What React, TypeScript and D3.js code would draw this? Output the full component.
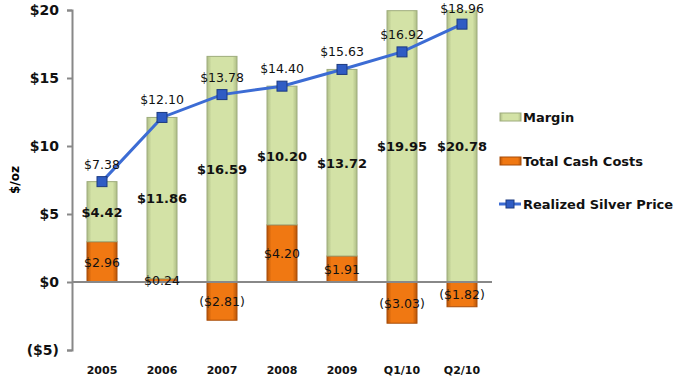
import React, { useRef, useEffect } from "react";
import * as d3 from "d3";

const categories = ["2005", "2006", "2007", "2008", "2009", "Q1/10", "Q2/10"];
const cashCosts = [2.96, 0.24, -2.81, 4.2, 1.91, -3.03, -1.82];
const margins = [4.42, 11.86, 16.59, 10.2, 13.72, 19.95, 20.78];
const silverPrice = [7.38, 12.1, 13.78, 14.4, 15.63, 16.92, 18.96];
const yTicks = [-5, 0, 5, 10, 15, 20];

const W = 677;
const H = 384;
const left = 72;
const right = 492;
const top = 10;
const bottom = 350;
const FONT = "'DejaVu Sans', Verdana, sans-serif";

const fmt = (v: number) => (v < 0 ? `($${Math.abs(v).toFixed(2)})` : `$${v.toFixed(2)}`);
const tickFmt = (v: number) => (v < 0 ? `($${Math.abs(v)})` : `$${v}`);

function App() {
  const svgRef = useRef<SVGSVGElement>(null);

  useEffect(() => {
    const svg = d3.select(svgRef.current);
    svg.selectAll("*").remove();

    const x = d3.scaleBand().domain(categories).range([left, right]).paddingInner(0.5).paddingOuter(0.25);
    const y = d3.scaleLinear().domain([-5, 20]).range([bottom, top]);

    const defs = svg.append("defs");
    const grad = (id: string, edge: string, mid: string) => {
      const g = defs.append("linearGradient").attr("id", id).attr("x1", 0).attr("x2", 1).attr("y1", 0).attr("y2", 0);
      g.append("stop").attr("offset", "0%").attr("stop-color", edge);
      g.append("stop").attr("offset", "15%").attr("stop-color", mid);
      g.append("stop").attr("offset", "85%").attr("stop-color", mid);
      g.append("stop").attr("offset", "100%").attr("stop-color", edge);
    };
    grad("gGreen", "#aebd86", "#d3e2a6");
    grad("gOrange", "#b85508", "#f07812");
    defs.append("clipPath").attr("id", "plotClip")
      .append("rect").attr("x", left).attr("y", y(20)).attr("width", right - left).attr("height", bottom - y(20));

    // y axis
    const yAxis = d3.axisLeft(y).tickValues(yTicks).tickFormat(d => tickFmt(+d)).tickSize(5).tickPadding(8);
    const ya = svg.append("g").attr("transform", `translate(${left},0)`).call(yAxis);
    ya.select(".domain").attr("stroke", "#888").attr("stroke-width", 2);
    ya.selectAll(".tick line").attr("stroke", "#888").attr("stroke-width", 2);
    ya.selectAll(".tick text").attr("font-family", FONT).attr("font-size", 14).attr("font-weight", "bold").attr("fill", "#111");

    svg.append("text")
      .attr("transform", `translate(19,${(top + bottom) / 2}) rotate(-90)`)
      .attr("text-anchor", "middle")
      .attr("font-family", FONT).attr("font-size", 12).attr("font-weight", "bold")
      .text("$/oz");

    const plot = svg.append("g").attr("clip-path", "url(#plotClip)");
    const bw = x.bandwidth();

    // cash cost bars
    plot.selectAll(".cost").data(categories).join("rect")
      .attr("class", "cost")
      .attr("x", d => x(d)!)
      .attr("y", (d, i) => y(Math.max(0, cashCosts[i])))
      .attr("width", bw)
      .attr("height", (d, i) => Math.abs(y(0) - y(cashCosts[i])))
      .attr("fill", "url(#gOrange)")
      .attr("stroke", "#a84c08").attr("stroke-width", 1);

    const mBase = (i: number) => Math.max(0, cashCosts[i]);
    plot.selectAll(".margin").data(categories).join("rect")
      .attr("class", "margin")
      .attr("x", d => x(d)!)
      .attr("y", (d, i) => y(mBase(i) + margins[i]))
      .attr("width", bw)
      .attr("height", (d, i) => y(mBase(i)) - y(mBase(i) + margins[i]))
      .attr("fill", "url(#gGreen)")
      .attr("stroke", "#9eac7c").attr("stroke-width", 1);

    // x axis zero line
    svg.append("line").attr("x1", left).attr("x2", right).attr("y1", y(0)).attr("y2", y(0))
      .attr("stroke", "#888").attr("stroke-width", 2);

    // x labels
    svg.selectAll(".xl").data(categories).join("text")
      .attr("class", "xl")
      .attr("x", d => x(d)! + bw / 2).attr("y", 374)
      .attr("text-anchor", "middle")
      .attr("font-family", FONT).attr("font-size", 11).attr("font-weight", "bold").attr("fill", "#111")
      .text(d => d);

    // margin labels
    svg.selectAll(".ml").data(categories).join("text")
      .attr("class", "ml")
      .attr("x", d => x(d)! + bw / 2)
      .attr("y", (d, i) => y((mBase(i) + Math.min(20, mBase(i) + margins[i])) / 2) + 5)
      .attr("text-anchor", "middle")
      .attr("font-family", FONT).attr("font-size", 13).attr("font-weight", "bold").attr("fill", "#111")
      .text((d, i) => fmt(margins[i]));

    // cash cost labels
    svg.selectAll(".cl").data(categories).join("text")
      .attr("class", "cl")
      .attr("x", d => x(d)! + bw / 2)
      .attr("y", (d, i) => y(cashCosts[i] / 2) + 5)
      .attr("text-anchor", "middle")
      .attr("font-family", FONT).attr("font-size", 12.5).attr("fill", "#111")
      .text((d, i) => fmt(cashCosts[i]));

    // price line
    const line = d3.line<number>()
      .x((d, i) => x(categories[i])! + bw / 2)
      .y(d => y(d));
    svg.append("path").datum(silverPrice)
      .attr("d", line)
      .attr("fill", "none").attr("stroke", "#3c6cd4").attr("stroke-width", 3);

    svg.selectAll(".pm").data(silverPrice).join("rect")
      .attr("class", "pm")
      .attr("x", (d, i) => x(categories[i])! + bw / 2 - 5)
      .attr("y", d => y(d) - 5)
      .attr("width", 10).attr("height", 10)
      .attr("fill", "#2f5cc4").attr("stroke", "#1c3a80").attr("stroke-width", 1);

    svg.selectAll(".pl").data(silverPrice).join("text")
      .attr("class", "pl")
      .attr("x", (d, i) => x(categories[i])! + bw / 2)
      .attr("y", d => Math.max(13, y(d) - 13))
      .attr("text-anchor", "middle")
      .attr("font-family", FONT).attr("font-size", 12.5).attr("fill", "#111")
      .text(d => fmt(d));

    // legend
    const lg = svg.append("g").attr("transform", "translate(499,0)");
    const items = [
      { label: "Margin", y: 117, kind: "gGreen", stroke: "#9eac7c" },
      { label: "Total Cash Costs", y: 161, kind: "gOrange", stroke: "#a84c08" },
      { label: "Realized Silver Price", y: 204, kind: "line", stroke: "" },
    ];
    items.forEach(it => {
      if (it.kind === "line") {
        lg.append("line").attr("x1", 0).attr("x2", 22).attr("y1", it.y).attr("y2", it.y)
          .attr("stroke", "#3c6cd4").attr("stroke-width", 3);
        lg.append("rect").attr("x", 7).attr("y", it.y - 4).attr("width", 8).attr("height", 8)
          .attr("fill", "#2f5cc4").attr("stroke", "#1c3a80");
      } else {
        lg.append("rect").attr("x", 1).attr("y", it.y - 4).attr("width", 21).attr("height", 8)
          .attr("fill", `url(#${it.kind})`).attr("stroke", it.stroke);
      }
      lg.append("text").attr("x", 24).attr("y", it.y + 5)
        .attr("font-family", FONT).attr("font-size", 13).attr("font-weight", "bold").attr("fill", "#111")
        .text(it.label);
    });
  }, []);

  return (
    <svg ref={svgRef} width={W} height={H} style={{ position: "absolute", left: 0, top: 0, background: "#fff" }} />
  );
}

export default App;
